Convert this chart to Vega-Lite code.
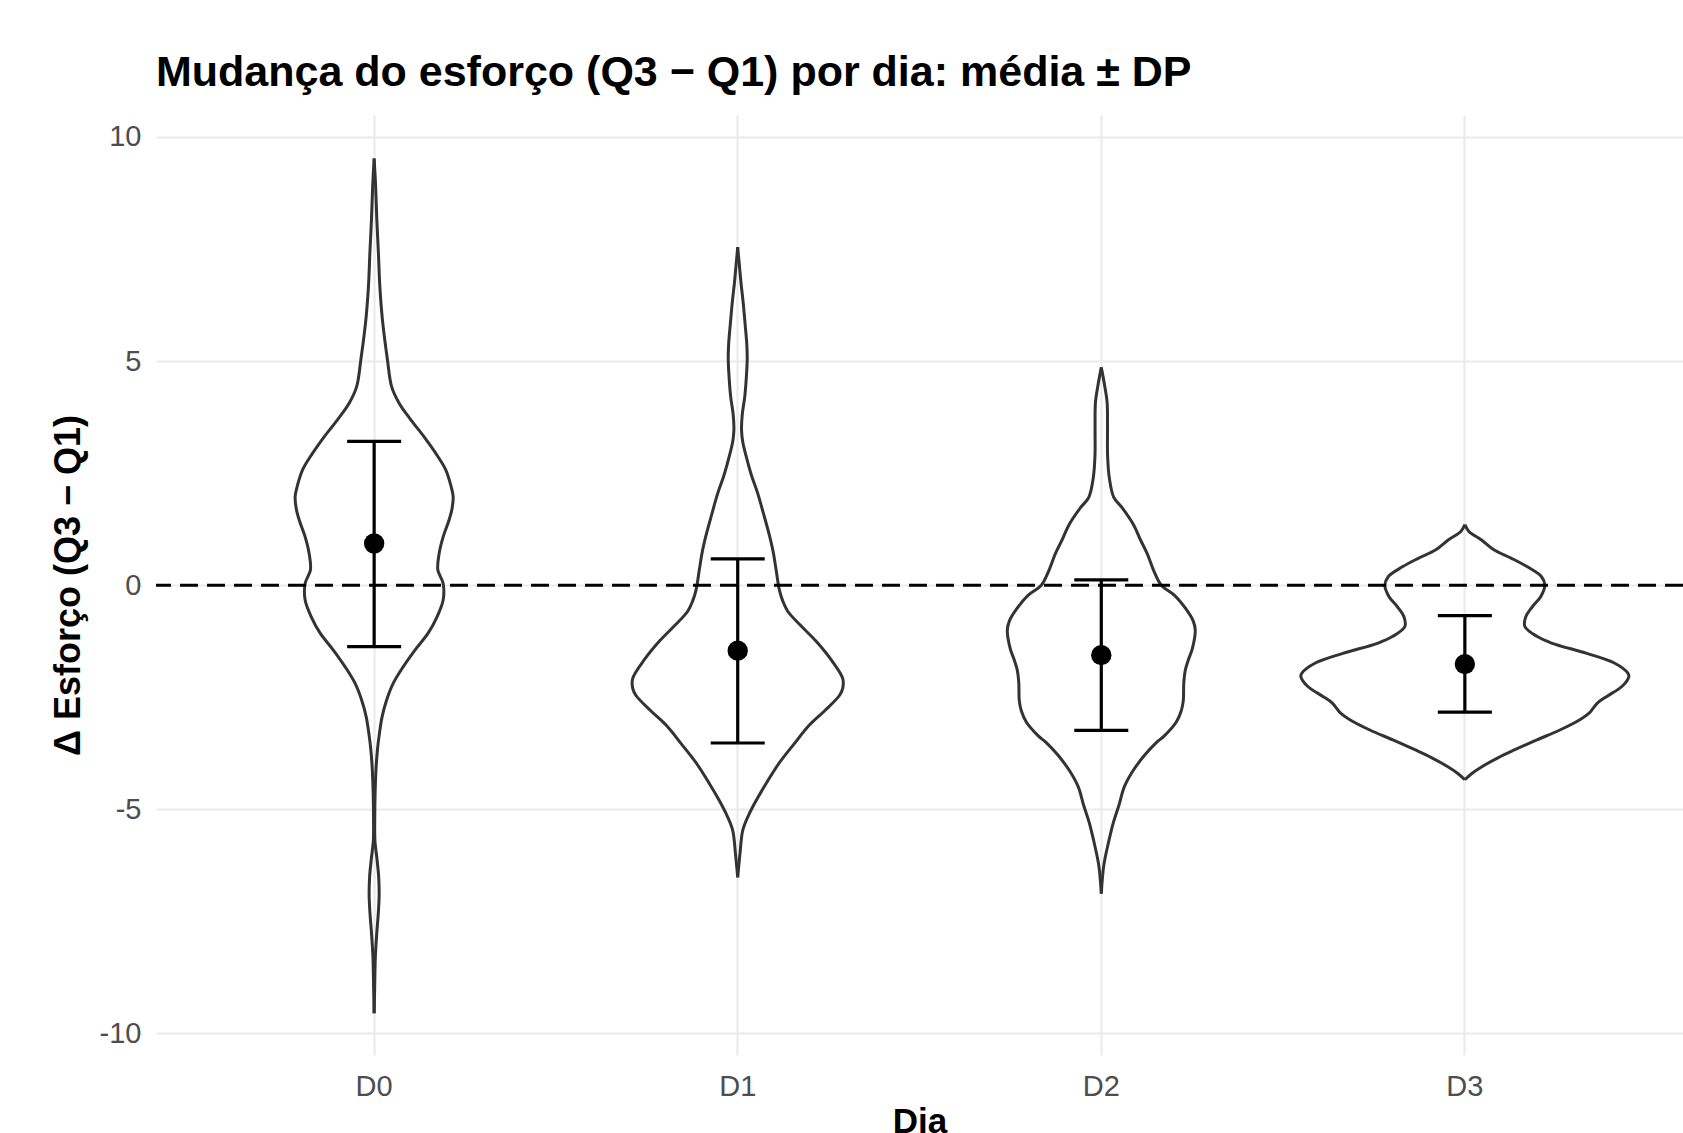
{
  "$schema": "https://vega.github.io/schema/vega-lite/v6.json",
  "width": 1527,
  "height": 940,
  "autosize": {"type": "none"},
  "padding": {"left": 156, "top": 115, "right": 0, "bottom": 78},
  "background": "white",
  "config": {
    "view": {"stroke": null},
    "font": "Liberation Sans",
    "axisX": {"domain": false, "ticks": false, "tickSize": 0, "grid": true, "bandPosition": 0.5, "labelPadding": 17, "labelFontSize": 29, "labelColor": "#4d4d4d", "labelAngle": 0, "gridColor": "#ebebeb", "gridWidth": 2.2, "titleFontSize": 35, "titleFontWeight": "bold", "titleColor": "#000000", "titleBaseline": "alphabetic", "titlePadding": 31},
    "axisY": {"domain": false, "ticks": false, "tickSize": 0, "grid": true, "labelPadding": 15, "labelFontSize": 29, "labelColor": "#4d4d4d", "gridColor": "#ebebeb", "gridWidth": 2.2, "titleFontSize": 36, "titleFontWeight": "bold", "titleColor": "#000000", "titleBaseline": "alphabetic", "titlePadding": 20}
  },
  "title": {"text": "Mudança do esforço (Q3 − Q1) por dia: média ± DP", "anchor": "start", "frame": "group", "fontSize": 43, "fontWeight": "bold", "color": "#000000", "baseline": "alphabetic", "offset": 27, "dy": 41},
  "datasets": {
    "violin": [
      {"dia":"D0","s":"R","y":9.52,"w":0},{"dia":"D0","s":"R","y":8.9,"w":0.0041},{"dia":"D0","s":"R","y":8.15,"w":0.0074},{"dia":"D0","s":"R","y":7.4,"w":0.0118},{"dia":"D0","s":"R","y":6.66,"w":0.0157},{"dia":"D0","s":"R","y":5.92,"w":0.0228},{"dia":"D0","s":"R","y":5.03,"w":0.0366},{"dia":"D0","s":"R","y":4.43,"w":0.0481},{"dia":"D0","s":"R","y":4.06,"w":0.0688},{"dia":"D0","s":"R","y":3.69,"w":0.1009},{"dia":"D0","s":"R","y":3.31,"w":0.1375},{"dia":"D0","s":"R","y":2.94,"w":0.1697},{"dia":"D0","s":"R","y":2.57,"w":0.1972},{"dia":"D0","s":"R","y":2.2,"w":0.2118},{"dia":"D0","s":"R","y":1.98,"w":0.2173},{"dia":"D0","s":"R","y":1.72,"w":0.2145},{"dia":"D0","s":"R","y":1.46,"w":0.2063},{"dia":"D0","s":"R","y":1.08,"w":0.1898},{"dia":"D0","s":"R","y":0.71,"w":0.1788},{"dia":"D0","s":"R","y":0.34,"w":0.1752},{"dia":"D0","s":"R","y":0.04,"w":0.1898},{"dia":"D0","s":"R","y":-0.33,"w":0.1898},{"dia":"D0","s":"R","y":-0.7,"w":0.1733},{"dia":"D0","s":"R","y":-1.07,"w":0.1485},{"dia":"D0","s":"R","y":-1.44,"w":0.1128},{"dia":"D0","s":"R","y":-1.82,"w":0.0798},{"dia":"D0","s":"R","y":-2.19,"w":0.0523},{"dia":"D0","s":"R","y":-2.56,"w":0.0344},{"dia":"D0","s":"R","y":-2.93,"w":0.022},{"dia":"D0","s":"R","y":-3.3,"w":0.0146},{"dia":"D0","s":"R","y":-3.67,"w":0.0091},{"dia":"D0","s":"R","y":-4.05,"w":0.0055},{"dia":"D0","s":"R","y":-4.6,"w":0.0028},{"dia":"D0","s":"R","y":-5.2,"w":0.0017},{"dia":"D0","s":"R","y":-5.7,"w":0.0022},{"dia":"D0","s":"R","y":-6.1,"w":0.0077},{"dia":"D0","s":"R","y":-6.5,"w":0.0124},{"dia":"D0","s":"R","y":-6.9,"w":0.0138},{"dia":"D0","s":"R","y":-7.3,"w":0.0116},{"dia":"D0","s":"R","y":-7.8,"w":0.0069},{"dia":"D0","s":"R","y":-8.3,"w":0.0033},{"dia":"D0","s":"R","y":-9.0,"w":0.0014},{"dia":"D0","s":"R","y":-9.55,"w":0},
      {"dia":"D0","s":"L","y":9.52,"w":0},{"dia":"D0","s":"L","y":8.9,"w":-0.0041},{"dia":"D0","s":"L","y":8.15,"w":-0.0074},{"dia":"D0","s":"L","y":7.4,"w":-0.0118},{"dia":"D0","s":"L","y":6.66,"w":-0.0157},{"dia":"D0","s":"L","y":5.92,"w":-0.0228},{"dia":"D0","s":"L","y":5.03,"w":-0.0366},{"dia":"D0","s":"L","y":4.43,"w":-0.0481},{"dia":"D0","s":"L","y":4.06,"w":-0.0688},{"dia":"D0","s":"L","y":3.69,"w":-0.1009},{"dia":"D0","s":"L","y":3.31,"w":-0.1375},{"dia":"D0","s":"L","y":2.94,"w":-0.1697},{"dia":"D0","s":"L","y":2.57,"w":-0.1972},{"dia":"D0","s":"L","y":2.2,"w":-0.2118},{"dia":"D0","s":"L","y":1.98,"w":-0.2173},{"dia":"D0","s":"L","y":1.72,"w":-0.2145},{"dia":"D0","s":"L","y":1.46,"w":-0.2063},{"dia":"D0","s":"L","y":1.08,"w":-0.1898},{"dia":"D0","s":"L","y":0.71,"w":-0.1788},{"dia":"D0","s":"L","y":0.34,"w":-0.1752},{"dia":"D0","s":"L","y":0.04,"w":-0.1898},{"dia":"D0","s":"L","y":-0.33,"w":-0.1898},{"dia":"D0","s":"L","y":-0.7,"w":-0.1733},{"dia":"D0","s":"L","y":-1.07,"w":-0.1485},{"dia":"D0","s":"L","y":-1.44,"w":-0.1128},{"dia":"D0","s":"L","y":-1.82,"w":-0.0798},{"dia":"D0","s":"L","y":-2.19,"w":-0.0523},{"dia":"D0","s":"L","y":-2.56,"w":-0.0344},{"dia":"D0","s":"L","y":-2.93,"w":-0.022},{"dia":"D0","s":"L","y":-3.3,"w":-0.0146},{"dia":"D0","s":"L","y":-3.67,"w":-0.0091},{"dia":"D0","s":"L","y":-4.05,"w":-0.0055},{"dia":"D0","s":"L","y":-4.6,"w":-0.0028},{"dia":"D0","s":"L","y":-5.2,"w":-0.0017},{"dia":"D0","s":"L","y":-5.7,"w":-0.0022},{"dia":"D0","s":"L","y":-6.1,"w":-0.0077},{"dia":"D0","s":"L","y":-6.5,"w":-0.0124},{"dia":"D0","s":"L","y":-6.9,"w":-0.0138},{"dia":"D0","s":"L","y":-7.3,"w":-0.0116},{"dia":"D0","s":"L","y":-7.8,"w":-0.0069},{"dia":"D0","s":"L","y":-8.3,"w":-0.0033},{"dia":"D0","s":"L","y":-9.0,"w":-0.0014},{"dia":"D0","s":"L","y":-9.55,"w":0},
      {"dia":"D1","s":"R","y":7.54,"w":0},{"dia":"D1","s":"R","y":7.1,"w":0.005},{"dia":"D1","s":"R","y":6.74,"w":0.0091},{"dia":"D1","s":"R","y":6.3,"w":0.0151},{"dia":"D1","s":"R","y":5.8,"w":0.0206},{"dia":"D1","s":"R","y":5.4,"w":0.0248},{"dia":"D1","s":"R","y":5.05,"w":0.0261},{"dia":"D1","s":"R","y":4.6,"w":0.0234},{"dia":"D1","s":"R","y":4.2,"w":0.0193},{"dia":"D1","s":"R","y":3.8,"w":0.0124},{"dia":"D1","s":"R","y":3.46,"w":0.0105},{"dia":"D1","s":"R","y":3.2,"w":0.0138},{"dia":"D1","s":"R","y":2.89,"w":0.0228},{"dia":"D1","s":"R","y":2.47,"w":0.0371},{"dia":"D1","s":"R","y":2.05,"w":0.055},{"dia":"D1","s":"R","y":1.58,"w":0.0715},{"dia":"D1","s":"R","y":1.11,"w":0.0872},{"dia":"D1","s":"R","y":0.74,"w":0.0976},{"dia":"D1","s":"R","y":0.36,"w":0.1053},{"dia":"D1","s":"R","y":-0.11,"w":0.1147},{"dia":"D1","s":"R","y":-0.35,"w":0.1238},{"dia":"D1","s":"R","y":-0.58,"w":0.1375},{"dia":"D1","s":"R","y":-0.9,"w":0.1733},{"dia":"D1","s":"R","y":-1.24,"w":0.2145},{"dia":"D1","s":"R","y":-1.65,"w":0.2558},{"dia":"D1","s":"R","y":-2.08,"w":0.2888},{"dia":"D1","s":"R","y":-2.3,"w":0.2888},{"dia":"D1","s":"R","y":-2.46,"w":0.2797},{"dia":"D1","s":"R","y":-2.8,"w":0.2393},{"dia":"D1","s":"R","y":-3.12,"w":0.1972},{"dia":"D1","s":"R","y":-3.55,"w":0.154},{"dia":"D1","s":"R","y":-3.96,"w":0.1147},{"dia":"D1","s":"R","y":-4.4,"w":0.0798},{"dia":"D1","s":"R","y":-4.81,"w":0.0503},{"dia":"D1","s":"R","y":-5.15,"w":0.0289},{"dia":"D1","s":"R","y":-5.47,"w":0.0138},{"dia":"D1","s":"R","y":-6.0,"w":0.0061},{"dia":"D1","s":"R","y":-6.52,"w":0},
      {"dia":"D1","s":"L","y":7.54,"w":0},{"dia":"D1","s":"L","y":7.1,"w":-0.005},{"dia":"D1","s":"L","y":6.74,"w":-0.0091},{"dia":"D1","s":"L","y":6.3,"w":-0.0151},{"dia":"D1","s":"L","y":5.8,"w":-0.0206},{"dia":"D1","s":"L","y":5.4,"w":-0.0248},{"dia":"D1","s":"L","y":5.05,"w":-0.0261},{"dia":"D1","s":"L","y":4.6,"w":-0.0234},{"dia":"D1","s":"L","y":4.2,"w":-0.0193},{"dia":"D1","s":"L","y":3.8,"w":-0.0124},{"dia":"D1","s":"L","y":3.46,"w":-0.0105},{"dia":"D1","s":"L","y":3.2,"w":-0.0138},{"dia":"D1","s":"L","y":2.89,"w":-0.0228},{"dia":"D1","s":"L","y":2.47,"w":-0.0371},{"dia":"D1","s":"L","y":2.05,"w":-0.055},{"dia":"D1","s":"L","y":1.58,"w":-0.0715},{"dia":"D1","s":"L","y":1.11,"w":-0.0872},{"dia":"D1","s":"L","y":0.74,"w":-0.0976},{"dia":"D1","s":"L","y":0.36,"w":-0.1053},{"dia":"D1","s":"L","y":-0.11,"w":-0.1147},{"dia":"D1","s":"L","y":-0.35,"w":-0.1238},{"dia":"D1","s":"L","y":-0.58,"w":-0.1375},{"dia":"D1","s":"L","y":-0.9,"w":-0.1733},{"dia":"D1","s":"L","y":-1.24,"w":-0.2145},{"dia":"D1","s":"L","y":-1.65,"w":-0.2558},{"dia":"D1","s":"L","y":-2.08,"w":-0.2888},{"dia":"D1","s":"L","y":-2.3,"w":-0.2888},{"dia":"D1","s":"L","y":-2.46,"w":-0.2797},{"dia":"D1","s":"L","y":-2.8,"w":-0.2393},{"dia":"D1","s":"L","y":-3.12,"w":-0.1972},{"dia":"D1","s":"L","y":-3.55,"w":-0.154},{"dia":"D1","s":"L","y":-3.96,"w":-0.1147},{"dia":"D1","s":"L","y":-4.4,"w":-0.0798},{"dia":"D1","s":"L","y":-4.81,"w":-0.0503},{"dia":"D1","s":"L","y":-5.15,"w":-0.0289},{"dia":"D1","s":"L","y":-5.47,"w":-0.0138},{"dia":"D1","s":"L","y":-6.0,"w":-0.0061},{"dia":"D1","s":"L","y":-6.52,"w":0},
      {"dia":"D2","s":"R","y":4.86,"w":0},{"dia":"D2","s":"R","y":4.5,"w":0.0083},{"dia":"D2","s":"R","y":4.08,"w":0.016},{"dia":"D2","s":"R","y":3.5,"w":0.0171},{"dia":"D2","s":"R","y":2.9,"w":0.0173},{"dia":"D2","s":"R","y":2.4,"w":0.022},{"dia":"D2","s":"R","y":1.96,"w":0.0344},{"dia":"D2","s":"R","y":1.73,"w":0.0572},{"dia":"D2","s":"R","y":1.34,"w":0.0894},{"dia":"D2","s":"R","y":1.02,"w":0.1073},{"dia":"D2","s":"R","y":0.71,"w":0.126},{"dia":"D2","s":"R","y":0.35,"w":0.143},{"dia":"D2","s":"R","y":0.0,"w":0.165},{"dia":"D2","s":"R","y":-0.22,"w":0.2008},{"dia":"D2","s":"R","y":-0.54,"w":0.2338},{"dia":"D2","s":"R","y":-0.8,"w":0.253},{"dia":"D2","s":"R","y":-1.01,"w":0.2585},{"dia":"D2","s":"R","y":-1.42,"w":0.2503},{"dia":"D2","s":"R","y":-1.64,"w":0.2406},{"dia":"D2","s":"R","y":-1.9,"w":0.231},{"dia":"D2","s":"R","y":-2.18,"w":0.2269},{"dia":"D2","s":"R","y":-2.58,"w":0.2255},{"dia":"D2","s":"R","y":-2.8,"w":0.22},{"dia":"D2","s":"R","y":-3.05,"w":0.2063},{"dia":"D2","s":"R","y":-3.36,"w":0.1733},{"dia":"D2","s":"R","y":-3.51,"w":0.1513},{"dia":"D2","s":"R","y":-3.8,"w":0.1183},{"dia":"D2","s":"R","y":-4.14,"w":0.0872},{"dia":"D2","s":"R","y":-4.5,"w":0.0633},{"dia":"D2","s":"R","y":-4.92,"w":0.0481},{"dia":"D2","s":"R","y":-5.3,"w":0.033},{"dia":"D2","s":"R","y":-5.71,"w":0.0206},{"dia":"D2","s":"R","y":-6.25,"w":0.0069},{"dia":"D2","s":"R","y":-6.88,"w":0},
      {"dia":"D2","s":"L","y":4.86,"w":0},{"dia":"D2","s":"L","y":4.5,"w":-0.0083},{"dia":"D2","s":"L","y":4.08,"w":-0.016},{"dia":"D2","s":"L","y":3.5,"w":-0.0171},{"dia":"D2","s":"L","y":2.9,"w":-0.0173},{"dia":"D2","s":"L","y":2.4,"w":-0.022},{"dia":"D2","s":"L","y":1.96,"w":-0.0344},{"dia":"D2","s":"L","y":1.73,"w":-0.0572},{"dia":"D2","s":"L","y":1.34,"w":-0.0894},{"dia":"D2","s":"L","y":1.02,"w":-0.1073},{"dia":"D2","s":"L","y":0.71,"w":-0.126},{"dia":"D2","s":"L","y":0.35,"w":-0.143},{"dia":"D2","s":"L","y":0.0,"w":-0.165},{"dia":"D2","s":"L","y":-0.22,"w":-0.2008},{"dia":"D2","s":"L","y":-0.54,"w":-0.2338},{"dia":"D2","s":"L","y":-0.8,"w":-0.253},{"dia":"D2","s":"L","y":-1.01,"w":-0.2585},{"dia":"D2","s":"L","y":-1.42,"w":-0.2503},{"dia":"D2","s":"L","y":-1.64,"w":-0.2406},{"dia":"D2","s":"L","y":-1.9,"w":-0.231},{"dia":"D2","s":"L","y":-2.18,"w":-0.2269},{"dia":"D2","s":"L","y":-2.58,"w":-0.2255},{"dia":"D2","s":"L","y":-2.8,"w":-0.22},{"dia":"D2","s":"L","y":-3.05,"w":-0.2063},{"dia":"D2","s":"L","y":-3.36,"w":-0.1733},{"dia":"D2","s":"L","y":-3.51,"w":-0.1513},{"dia":"D2","s":"L","y":-3.8,"w":-0.1183},{"dia":"D2","s":"L","y":-4.14,"w":-0.0872},{"dia":"D2","s":"L","y":-4.5,"w":-0.0633},{"dia":"D2","s":"L","y":-4.92,"w":-0.0481},{"dia":"D2","s":"L","y":-5.3,"w":-0.033},{"dia":"D2","s":"L","y":-5.71,"w":-0.0206},{"dia":"D2","s":"L","y":-6.25,"w":-0.0069},{"dia":"D2","s":"L","y":-6.88,"w":0},
      {"dia":"D3","s":"R","y":1.35,"w":0},{"dia":"D3","s":"R","y":1.2,"w":0.011},{"dia":"D3","s":"R","y":1.01,"w":0.0459},{"dia":"D3","s":"R","y":0.79,"w":0.0798},{"dia":"D3","s":"R","y":0.6,"w":0.1284},{"dia":"D3","s":"R","y":0.41,"w":0.1719},{"dia":"D3","s":"R","y":0.19,"w":0.2109},{"dia":"D3","s":"R","y":0.0,"w":0.22},{"dia":"D3","s":"R","y":-0.25,"w":0.209},{"dia":"D3","s":"R","y":-0.48,"w":0.1856},{"dia":"D3","s":"R","y":-0.7,"w":0.1678},{"dia":"D3","s":"R","y":-0.92,"w":0.165},{"dia":"D3","s":"R","y":-1.14,"w":0.198},{"dia":"D3","s":"R","y":-1.29,"w":0.2384},{"dia":"D3","s":"R","y":-1.52,"w":0.3355},{"dia":"D3","s":"R","y":-1.74,"w":0.4125},{"dia":"D3","s":"R","y":-1.96,"w":0.4483},{"dia":"D3","s":"R","y":-2.04,"w":0.451},{"dia":"D3","s":"R","y":-2.26,"w":0.4318},{"dia":"D3","s":"R","y":-2.48,"w":0.3905},{"dia":"D3","s":"R","y":-2.63,"w":0.3644},{"dia":"D3","s":"R","y":-2.86,"w":0.341},{"dia":"D3","s":"R","y":-3.0,"w":0.3163},{"dia":"D3","s":"R","y":-3.23,"w":0.2613},{"dia":"D3","s":"R","y":-3.45,"w":0.198},{"dia":"D3","s":"R","y":-3.67,"w":0.1375},{"dia":"D3","s":"R","y":-3.85,"w":0.0908},{"dia":"D3","s":"R","y":-4.05,"w":0.0468},{"dia":"D3","s":"R","y":-4.2,"w":0.0193},{"dia":"D3","s":"R","y":-4.34,"w":0},
      {"dia":"D3","s":"L","y":1.35,"w":0},{"dia":"D3","s":"L","y":1.2,"w":-0.011},{"dia":"D3","s":"L","y":1.01,"w":-0.0459},{"dia":"D3","s":"L","y":0.79,"w":-0.0798},{"dia":"D3","s":"L","y":0.6,"w":-0.1284},{"dia":"D3","s":"L","y":0.41,"w":-0.1719},{"dia":"D3","s":"L","y":0.19,"w":-0.2109},{"dia":"D3","s":"L","y":0.0,"w":-0.22},{"dia":"D3","s":"L","y":-0.25,"w":-0.209},{"dia":"D3","s":"L","y":-0.48,"w":-0.1856},{"dia":"D3","s":"L","y":-0.7,"w":-0.1678},{"dia":"D3","s":"L","y":-0.92,"w":-0.165},{"dia":"D3","s":"L","y":-1.14,"w":-0.198},{"dia":"D3","s":"L","y":-1.29,"w":-0.2384},{"dia":"D3","s":"L","y":-1.52,"w":-0.3355},{"dia":"D3","s":"L","y":-1.74,"w":-0.4125},{"dia":"D3","s":"L","y":-1.96,"w":-0.4483},{"dia":"D3","s":"L","y":-2.04,"w":-0.451},{"dia":"D3","s":"L","y":-2.26,"w":-0.4318},{"dia":"D3","s":"L","y":-2.48,"w":-0.3905},{"dia":"D3","s":"L","y":-2.63,"w":-0.3644},{"dia":"D3","s":"L","y":-2.86,"w":-0.341},{"dia":"D3","s":"L","y":-3.0,"w":-0.3163},{"dia":"D3","s":"L","y":-3.23,"w":-0.2613},{"dia":"D3","s":"L","y":-3.45,"w":-0.198},{"dia":"D3","s":"L","y":-3.67,"w":-0.1375},{"dia":"D3","s":"L","y":-3.85,"w":-0.0908},{"dia":"D3","s":"L","y":-4.05,"w":-0.0468},{"dia":"D3","s":"L","y":-4.2,"w":-0.0193},{"dia":"D3","s":"L","y":-4.34,"w":0}
    ],
    "stats": [
      {"dia":"D0","mean":0.93,"lo":-1.37,"hi":3.21},
      {"dia":"D1","mean":-1.46,"lo":-3.52,"hi":0.59},
      {"dia":"D2","mean":-1.56,"lo":-3.24,"hi":0.12},
      {"dia":"D3","mean":-1.76,"lo":-2.83,"hi":-0.68}
    ]
  },
  "layer": [
    {
      "data": {"name": "violin"},
      "mark": {"type": "line", "interpolate": "catmull-rom", "stroke": "#333333", "strokeWidth": 3},
      "encoding": {
        "x": {"field": "dia", "type": "nominal", "title": "Dia", "scale": {"type": "band", "domain": ["D0","D1","D2","D3"], "paddingInner": 0, "paddingOuter": 0.1}},
        "xOffset": {"field": "w", "type": "quantitative", "scale": {"domain": [-0.5, 0.5], "nice": false, "zero": false}},
        "y": {"field": "y", "type": "quantitative", "title": "Δ Esforço (Q3 − Q1)", "scale": {"domain": [-10.48, 10.49], "nice": false, "zero": false}, "axis": {"values": [-10,-5,0,5,10], "labelExpr": "'' + datum.value"}},
        "detail": [{"field": "dia"}, {"field": "s"}],
        "order": {"field": "y", "type": "quantitative"}
      }
    },
    {
      "data": {"values": [{}]},
      "mark": {"type": "rule", "strokeDash": [18, 9], "strokeWidth": 3, "color": "#000000"},
      "encoding": {"y": {"datum": 0, "type": "quantitative", "title": "Δ Esforço (Q3 − Q1)"}}
    },
    {
      "data": {"name": "stats"},
      "mark": {"type": "rule", "strokeWidth": 3.2, "color": "#000000"},
      "encoding": {
        "x": {"field": "dia", "type": "nominal", "title": "Dia", "scale": {"type": "band"}},
        "y": {"field": "lo", "type": "quantitative", "title": "Δ Esforço (Q3 − Q1)"},
        "y2": {"field": "hi"}
      }
    },
    {
      "data": {"name": "stats"},
      "mark": {"type": "tick", "size": 54, "thickness": 3.2, "color": "#000000", "opacity": 1},
      "encoding": {
        "x": {"field": "dia", "type": "nominal", "title": "Dia", "scale": {"type": "band"}},
        "y": {"field": "lo", "type": "quantitative", "title": "Δ Esforço (Q3 − Q1)"}
      }
    },
    {
      "data": {"name": "stats"},
      "mark": {"type": "tick", "size": 54, "thickness": 3.2, "color": "#000000", "opacity": 1},
      "encoding": {
        "x": {"field": "dia", "type": "nominal", "title": "Dia", "scale": {"type": "band"}},
        "y": {"field": "hi", "type": "quantitative", "title": "Δ Esforço (Q3 − Q1)"}
      }
    },
    {
      "data": {"name": "stats"},
      "mark": {"type": "point", "filled": true, "size": 415, "color": "#000000", "opacity": 1},
      "encoding": {
        "x": {"field": "dia", "type": "nominal", "title": "Dia", "scale": {"type": "band"}},
        "y": {"field": "mean", "type": "quantitative", "title": "Δ Esforço (Q3 − Q1)"}
      }
    }
  ]
}
